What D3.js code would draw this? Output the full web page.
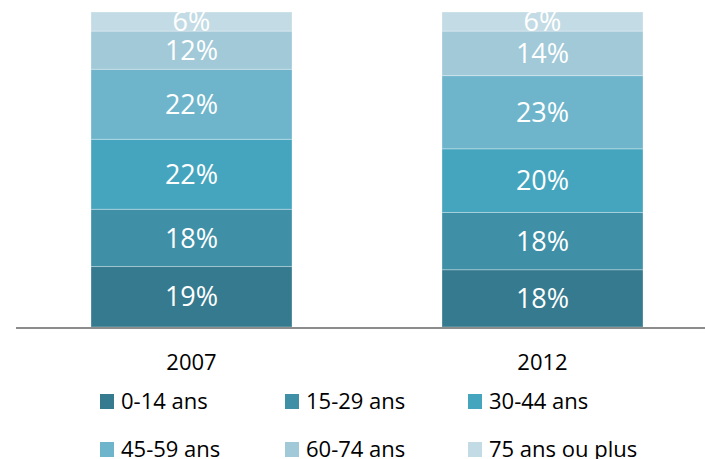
<!DOCTYPE html>
<html>
<head>
<meta charset="utf-8">
<script src="https://cdn.jsdelivr.net/npm/d3@7"></script>
<style>
body{margin:0;background:#fff;}
text{font-family:"Open Sans",sans-serif;}
</style>
</head>
<body>
<script>

var years = ["2007","2012"];
var groups = ["0-14 ans","15-29 ans","30-44 ans","45-59 ans","60-74 ans","75 ans ou plus"];
var v2007 = [19,18,22,22,12,6];
var v2012 = [18,18,20,23,14,6];
var colors = ["#357a8e","#3f8fa7","#46a5be","#6eb5cc","#a1c9d8","#c3dbe4"];

var width = 705,
	height = 459;

var rows = years.map(function(y,i){
	var vals = i == 0 ? v2007 : v2012;
	var r = {year:y};
	groups.forEach(function(g,k){ r[g] = vals[k]; });
	return r;
});

var stack = d3.stack().keys(groups);
var series = stack(rows);

var x = d3.scaleBand()
	.domain(years)
	.range([16,718])
	.paddingInner(0.4274)
	.paddingOuter(0.2137);

var total = d3.max(rows,function(r){ return d3.sum(groups,function(g){ return r[g]; }); });
var y = d3.scaleLinear()
	.domain([0,total])
	.range([327,12]);

var color = d3.scaleOrdinal().domain(groups).range(colors);

var svg = d3.select("body").append("svg")
	.attr("width",width)
	.attr("height",height);

var layer = svg.selectAll(".layer")
	.data(series)
	.enter()
	.append("g")
	.attr("class","layer")
	.style("fill",function(d){ return color(d.key); });

layer.selectAll("rect")
	.data(function(d){ return d; })
	.enter()
	.append("rect")
	.attr("x",function(d){ return x(d.data.year); })
	.attr("y",function(d){ return y(d[1]); })
	.attr("width",x.bandwidth())
	.attr("height",function(d){ return y(d[0]) - y(d[1]); })
	.style("stroke","rgba(255,255,255,0.3)")
	.style("stroke-width",1);

layer.selectAll("text")
	.data(function(d){ return d; })
	.enter()
	.append("text")
	.attr("x",function(d){ return x(d.data.year) + x.bandwidth()/2; })
	.attr("y",function(d){ return (y(d[0]) + y(d[1]))/2; })
	.attr("dy","0.36em")
	.attr("text-anchor","middle")
	.style("fill","#fff")
	.style("font-size","27px")
	.text(function(d){ return (d[1]-d[0]) + "%"; });

// baseline
svg.append("line")
	.attr("x1",x.range()[0])
	.attr("x2",width)
	.attr("y1",y(0)+1)
	.attr("y2",y(0)+1)
	.style("stroke","#8c8c8c")
	.style("stroke-width",2);

svg.selectAll(".year")
	.data(years)
	.enter()
	.append("text")
	.attr("class","year")
	.attr("x",function(d){ return x(d) + x.bandwidth()/2; })
	.attr("y",370)
	.attr("text-anchor","middle")
	.style("font-size","22px")
	.style("fill","#000")
	.text(function(d){ return d; });

var legX = [100,285,468],
	legY = [409,457];

var leg = svg.selectAll(".leg")
	.data(groups)
	.enter()
	.append("g")
	.attr("class","leg")
	.attr("transform",function(d,i){
		return "translate(" + legX[i%3] + "," + legY[Math.floor(i/3)] + ")";
	});

leg.append("rect")
	.attr("x",0)
	.attr("y",-15)
	.attr("width",14)
	.attr("height",15)
	.style("fill",function(d){ return color(d); });

leg.append("text")
	.attr("x",21)
	.attr("y",0)
	.style("font-size","22px")
	.style("fill","#000")
	.text(function(d){ return d; });

</script>
</body>
</html>
